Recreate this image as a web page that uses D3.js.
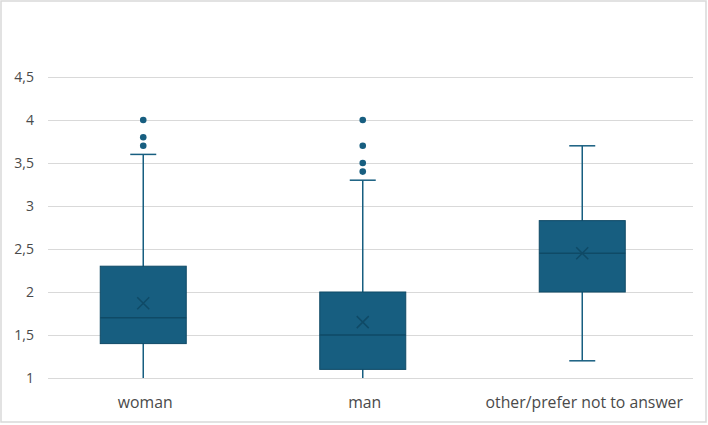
<!DOCTYPE html>
<html>
<head lang="en">
    <meta charset="UTF-8">
    <title>Box plot</title>
    <style>
        body { margin: 0; background: #fff; }
        text { font-family: "Open Sans", "Liberation Sans", Arial, sans-serif; fill: #4a4a4a; }
    </style>
</head>
<body>
<div id="chart"></div>
<script src="https://cdn.jsdelivr.net/npm/d3@7"></script>
<script>
// data
var groups   = ["woman", "man", "other/prefer not to answer"];
var whiskLo  = [1.0, 1.0, 1.2];
var q1       = [1.4, 1.1, 2.0];
var median   = [1.7, 1.5, 2.45];
var q3       = [2.3, 2.0, 2.83];
var whiskHi  = [3.6, 3.3, 3.7];
var means    = [1.87, 1.65, 2.45];
var outliers = [[3.7, 3.8, 4.0], [3.4, 3.5, 3.7, 4.0], []];
var yTicks   = [1, 1.5, 2, 2.5, 3, 3.5, 4, 4.5];

var width = 708, height = 425;
var color = "#175e80", dark = "#0f4a66";

var svg = d3.select("#chart").append("svg")
    .attr("width", width)
    .attr("height", height);

// outer frame
svg.append("rect")
    .attr("x", 1).attr("y", 1)
    .attr("width", width - 3).attr("height", height - 4)
    .attr("fill", "none")
    .attr("stroke", "#d9d9d9")
    .attr("stroke-width", 1.5);

var y = d3.scaleLinear().domain([1, 4.5]).range([378, 77]);
var x = d3.scaleBand().domain(groups).range([33.5, 692]);
var plotLeft = 48, plotRight = 693;
var boxW = 86, capW = 26;

// gridlines
svg.append("g").selectAll("line")
    .data(yTicks)
    .enter().append("line")
    .attr("x1", plotLeft).attr("x2", plotRight)
    .attr("y1", function (d) { return Math.round(y(d)) + 0.5; })
    .attr("y2", function (d) { return Math.round(y(d)) + 0.5; })
    .attr("stroke", "#d9d9d9")
    .attr("stroke-width", 1);

// y tick labels
var fmt = function (d) { return String(d).replace(".", ","); };
svg.append("g").selectAll("text")
    .data(yTicks)
    .enter().append("text")
    .attr("x", 34)
    .attr("y", function (d) { return y(d); })
    .attr("dy", "0.35em")
    .attr("text-anchor", "end")
    .style("font-size", "14px")
    .text(fmt);

// x labels
svg.append("g").selectAll("text")
    .data(groups)
    .enter().append("text")
    .attr("x", function (d) { return x(d) + x.bandwidth() / 2 + 2; })
    .attr("y", 408)
    .attr("text-anchor", "middle")
    .style("font-size", "15.8px")
    .text(function (d) { return d; });

var boxes = svg.append("g").selectAll("g")
    .data(groups)
    .enter().append("g")
    .attr("transform", function (d) { return "translate(" + (x(d) + x.bandwidth() / 2) + ",0)"; });

// whiskers
boxes.append("line")
    .attr("x1", 0).attr("x2", 0)
    .attr("y1", function (d, i) { return y(whiskLo[i]); })
    .attr("y2", function (d, i) { return y(whiskHi[i]); })
    .attr("stroke", color).attr("stroke-width", 1.5);

// caps (skip where whisker reaches the axis floor)
boxes.each(function (d, i) {
    var g = d3.select(this);
    [whiskLo[i], whiskHi[i]].forEach(function (v) {
        if (v <= 1) return;
        g.append("line")
            .attr("x1", -capW / 2).attr("x2", capW / 2)
            .attr("y1", y(v)).attr("y2", y(v))
            .attr("stroke", color).attr("stroke-width", 1.5);
    });
});

// box
boxes.append("rect")
    .attr("x", -boxW / 2)
    .attr("width", boxW)
    .attr("y", function (d, i) { return y(q3[i]); })
    .attr("height", function (d, i) { return y(q1[i]) - y(q3[i]); })
    .attr("fill", color)
    .attr("stroke", dark)
    .attr("stroke-width", 1);

// median
boxes.append("line")
    .attr("x1", -boxW / 2).attr("x2", boxW / 2)
    .attr("y1", function (d, i) { return y(median[i]); })
    .attr("y2", function (d, i) { return y(median[i]); })
    .attr("stroke", dark).attr("stroke-width", 1.5);

// mean marker (x)
boxes.append("path")
    .attr("d", function (d, i) {
        var m = y(means[i]), s = 6;
        return "M" + (-s) + "," + (m - s) + "L" + s + "," + (m + s) +
               "M" + s + "," + (m - s) + "L" + (-s) + "," + (m + s);
    })
    .attr("stroke", dark).attr("stroke-width", 1.5).attr("fill", "none");

// outliers
boxes.selectAll("circle")
    .data(function (d, i) { return outliers[i]; })
    .enter().append("circle")
    .attr("cx", 0)
    .attr("cy", function (v) { return y(v); })
    .attr("r", 3.3)
    .attr("fill", color);
</script>
</body>
</html>
